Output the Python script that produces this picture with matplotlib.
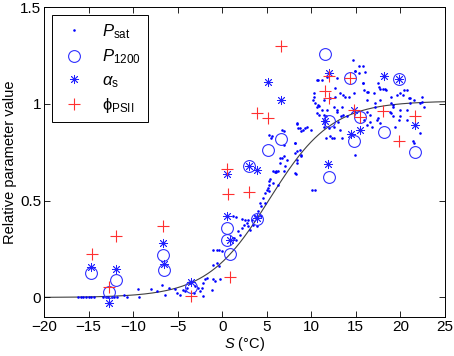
import matplotlib
matplotlib.use('Agg')
import matplotlib.pyplot as plt
import numpy as np

plt.rcParams['font.family'] = ['Liberation Sans', 'DejaVu Sans']
plt.rcParams['mathtext.fontset'] = 'custom'
plt.rcParams['mathtext.rm'] = 'Liberation Sans'
plt.rcParams['mathtext.it'] = 'Liberation Sans:italic'

# P_sat (small dots)
psat_x = [-16.2, -15.9, -15.6, -15.3, -15.0, -14.7, -14.4, -13.4, -13.1, -12.8, -12.4,
          -12.1, -11.8, -11.0, -10.7, -9.5, -9.3, -8.0, -7.3, -6.8, -6.4, -6.0, -5.3,
          -5.1, -4.7, -4.4, -4.2, -4.0, -3.6, -3.2, -3.05, -2.7, -2.5, -2.3, -2.2, -2.1,
          -1.9, -1.7, -1.2, -1.0, -0.8, -1.0, -0.6, -0.4, -1.0, -0.6, -0.4, -0.05, -0.25,
          1.2, 1.6, 2.2, 2.6, 2.9, 3.3, 3.7, 2.75, 2.2, 1.8, 2.0, 2.4, 2.9, 3.1, 1.3, 1.5,
          3.5, 3.9, 4.05, 4.4, 4.2, 4.4, 4.6, 4.8, 5.0, 5.1, 5.3, 5.2, 5.4, 5.9, 5.7, 6.3,
          5.3, 4.8, 5.2, 5.5, 5.6, 6.0, 6.3, 5.7, 6.0, 6.9, 8.3, 6.5, 6.9, 7.3, 8.2, 8.2,
          8.4, 6.7, 6.7, 6.5, 7.1, 6.9, 6.9, 8.4, 8.5, 8.4, 8.7, 9.3, 10.0, 8.8, 9.1,
          9.5, 8.2, 8.4, 8.8, 8.7, 8.9, 8.4, 8.2, 10.1, 10.45,
          10.2, 10.3, 10.3, 10.4, 10.6, 10.9, 10.6, 10.8, 10.8, 11.2, 11.2, 11.4, 11.8,
          11.4, 12.1, 12.7, 12.9, 13.6, 14.2, 14.8, 10.6, 10.9, 11.6, 11.8, 12.9, 13.3,
          13.6, 12.5, 12.9, 13.4, 14.0, 12.7, 13.2, 13.8, 13.0, 13.2, 13.4, 11.7, 12.3,
          11.4, 12.0, 12.5, 12.1, 12.5, 14.9, 14.7, 15.4, 15.8, 15.3, 14.9, 15.8, 16.0,
          15.8, 16.2, 15.9, 16.4, 17.0, 16.3, 17.2, 17.7, 17.6, 18.1, 18.4, 17.5, 17.7,
          18.3, 16.3, 16.6, 17.4, 17.7, 15.9, 16.3, 16.8, 17.1, 17.5, 16.6, 18.9, 19.6,
          20.4, 21.0, 18.9, 19.2, 20.0, 20.7, 20.7, 20.0, 20.3, 21.1, 22.4, 19.2, 18.8,
          19.4, 19.8, 18.9, 19.2, 20.0, 21.5, 22.2, 22.6, 21.1, 20.7, 22.2, 21.5, 21.4,
          22.4, 14.9]
psat_y = [0.0, 0.002, 0.0, 0.003, 0.0, 0.002, 0.0, 0.0, 0.003, 0.0, 0.002,
          0.0, 0.004, 0.015, 0.0, 0.046, 0.002, 0.046, 0.033, 0.067, 0.015, 0.05, 0.045,
          0.021, 0.015, 0.041, 0.033, 0.05, 0.077, 0.024, 0.058, 0.05, 0.033, 0.05, 0.007,
          0.076, 0.093, 0.1, 0.041, 0.093, 0.084, 0.17, 0.179, 0.161, 0.244, 0.247, 0.244,
          0.239, 0.096,
          0.423, 0.416, 0.406, 0.402, 0.402, 0.398, 0.423, 0.385, 0.359, 0.342, 0.325,
          0.376, 0.368, 0.351, 0.308, 0.295,
          0.376, 0.368, 0.445, 0.419, 0.488, 0.471, 0.514, 0.54, 0.557, 0.565, 0.582,
          0.6, 0.612, 0.646, 0.591, 0.582,
          0.549, 0.488, 0.84, 0.823, 0.832, 0.646, 0.651, 0.651, 0.651, 0.651, 0.638,
          0.723, 0.73, 0.711, 0.746, 0.797, 0.711, 0.866, 0.72, 0.694, 0.677, 0.861,
          0.789, 0.895, 0.875, 0.9, 0.875, 0.875, 0.866, 0.858, 0.866, 0.883, 0.797,
          0.755, 0.73, 0.763, 0.737, 0.694, 0.643, 0.555, 0.555,
          1.021, 1.055, 1.038, 1.004, 0.986, 0.99, 1.124, 1.124, 0.995, 1.124, 0.969,
          0.943, 1.138, 1.021, 1.029, 1.038, 1.132, 1.046, 1.038, 1.055, 0.952, 0.943,
          0.935, 0.969, 0.969, 0.935, 0.943, 0.986, 0.96, 0.986, 0.935, 1.081, 1.055,
          1.038, 0.909, 0.866, 0.823, 0.823, 0.823, 0.883, 0.875, 0.883, 0.832, 0.823,
          1.168, 1.227, 1.197, 1.197, 1.158, 1.168, 1.11, 1.167, 1.106, 1.064, 1.072,
          1.063, 1.055, 1.021, 1.004, 1.021, 1.086, 1.077, 1.072, 1.106, 1.076, 1.076,
          0.96, 0.943, 0.918, 0.9, 0.918, 0.892, 0.883, 0.986, 0.926, 0.909, 1.038,
          1.046, 1.072, 1.029, 1.004, 0.986, 0.969, 0.969, 1.072, 1.055, 1.046, 1.029,
          1.034, 0.995, 0.96, 0.883, 0.918, 0.952, 0.935, 0.935, 1.021, 1.004, 0.986,
          1.004, 0.918, 0.849, 0.797, 0.806, 1.012, 0.737]

# P_1200 (open circles)
p1200_x = [-14.7, -12.7, -11.9, -6.7, -6.5, -3.5, 0.5, 0.5, 0.9, 3.0, 3.9, 5.1, 6.6,
           11.5, 12.0, 12.0, 14.4, 15.5, 14.8, 18.2, 19.9, 21.6]
p1200_y = [0.124, 0.027, 0.091, 0.218, 0.144, 0.052, 0.359, 0.299, 0.227, 0.677,
           0.405, 0.763, 0.818, 1.256, 0.914, 0.62, 1.136, 0.93, 0.809, 0.854, 1.127,
           0.751]

# alpha_s (asterisks)
alpha_x = [-14.7, -12.7, -11.9, -6.7, -6.5, -3.5, 0.5, 0.5, 0.9, 3.0, 3.9, 3.9, 5.1,
           6.6, 11.5, 12.0, 11.9, 14.8, 15.5, 14.5, 18.2, 19.9, 21.6]
alpha_y = [0.158, -0.027, 0.148, 0.28, 0.174, 0.079, 0.419, 0.639, 0.299, 0.677,
           0.66, 0.41, 1.115, 1.02, 0.914, 1.161, 0.689, 0.966, 0.866, 0.845, 1.144,
           1.127, 0.892]

# phi_PSII (plus signs)
phi_x = [-14.6, -12.7, -11.9, -6.7, -3.5, 0.6, 0.5, 0.9, 3.0, 3.9, 5.1, 6.6, 12.0,
         11.5, 12.0, 14.4, 14.8, 15.5, 18.1, 19.8, 21.6]
phi_y = [0.225, 0.055, 0.32, 0.371, 0.009, 0.535, 0.663, 0.107, 0.543, 0.954, 0.928,
         1.299, 1.144, 1.065, 1.029, 1.136, 0.966, 0.93, 0.964, 0.806, 0.938]

# fitted sigmoid parameters
fit_top = 1.015
fit_mid = 5.3
fit_slope = 3.5

fig = plt.figure(figsize=(4.54, 3.56), dpi=100)
ax = fig.add_axes([0.097, 0.11, 0.883, 0.87])

xs = np.linspace(-20, 25, 300)
ax.plot(xs, fit_top / (1 + np.exp(-(xs - fit_mid) / fit_slope)), color='#404040', lw=0.8, zorder=1)

ax.plot(psat_x, psat_y, ls='none', marker='.', ms=1.7, color='blue', label=r'$P_{\mathrm{sat}}$')
ax.plot(p1200_x, p1200_y, ls='none', marker='o', ms=8.5, mfc='none', mec='#3030ff', mew=0.8,
        label=r'$P_{1200}$')
ax.plot(alpha_x, alpha_y, ls='none', marker=(8, 2, 0), ms=6.5, color='#2020ff', mew=0.6,
        label=r'$\alpha_{\mathrm{s}}$')
ax.plot(phi_x, phi_y, ls='none', marker='+', ms=9, color='#ff3030', mew=0.8,
        label='\u03d5$_{\\mathrm{PSII}}$')

ax.set_xlim(-20, 25)
ax.set_ylim(-0.1, 1.5)
ax.set_xticks(range(-20, 30, 5))
ax.set_yticks([0, 0.5, 1, 1.5])
ax.set_yticklabels(['0', '0.5', '1', '1.5'])
ax.tick_params(direction='in', top=True, right=True, length=4, width=0.6, labelsize=11, pad=2)
for s in ax.spines.values():
    s.set_linewidth(0.7)

ax.set_xlabel(r'$S$ (°C)', fontsize=10.5, labelpad=1)
ax.set_ylabel('Relative parameter value', fontsize=10.5, labelpad=2)

leg = ax.legend(loc='upper left', fontsize=12, fancybox=False, edgecolor='black',
                framealpha=1, borderaxespad=0.5, handletextpad=0.8, labelspacing=0.4,
                handlelength=1.8)
leg.get_frame().set_linewidth(0.7)

fig.savefig('out.png', dpi=100)
